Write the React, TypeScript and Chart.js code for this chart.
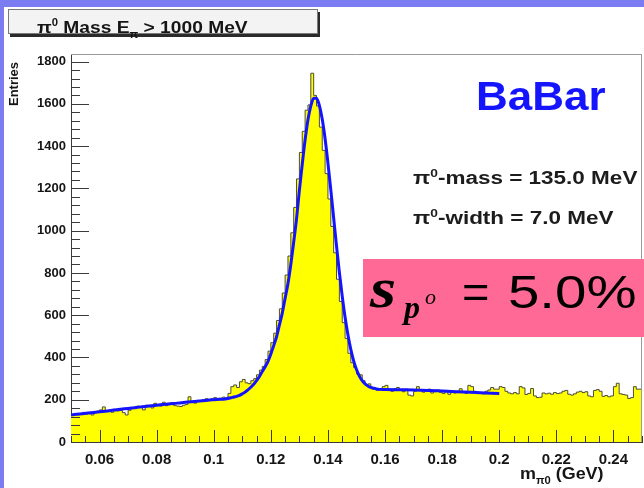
import React, { useEffect, useRef } from 'react';
import { Chart, registerables } from 'chart.js';

Chart.register(...registerables);

// ---------- data ----------
const binStart = 0.05;
const binWidth = 0.001;
const histCounts = [
  132, 126, 135, 129, 131, 140, 133, 137, 128, 144,
  146, 152, 166, 144, 150, 141, 155, 147, 149, 139,
  128, 150, 163, 158, 170, 166, 152, 174, 168, 161,
  183, 176, 170, 188, 172, 181, 186, 172, 170, 168,
  174, 178, 214, 190, 184, 196, 192, 200, 205, 198,
  204, 210, 199, 207, 212, 206, 230, 262, 270, 258,
  285, 296, 280, 276, 290, 300, 318, 340, 358, 390,
  430, 470, 515, 575, 630, 705, 790, 880, 990, 1110,
  1245, 1370, 1470, 1570, 1595, 1745, 1640, 1590, 1490, 1380,
  1270, 1150, 1020, 895, 770, 665, 565, 490, 420, 375,
  352, 322, 318, 290, 270, 275, 255, 250, 245, 252,
  262, 268, 248, 240, 252, 258, 244, 238, 250, 222,
  218, 240, 262, 248, 236, 244, 250, 232, 238, 246,
  235, 230, 244, 226, 238, 232, 240, 252, 236, 230,
  268, 262, 240, 236, 230, 228, 240, 246, 258, 250,
  250, 262, 258, 240, 232, 228, 234, 228, 262, 256,
  225, 230, 253, 218, 210, 212, 232, 228, 231, 226,
  234, 229, 232, 240, 244, 226, 222, 228, 236, 240,
  234, 238, 218, 214, 244, 248, 240, 216, 220, 214,
  218, 262, 278, 228, 225, 222, 206, 210, 262, 250,
];

const fitX = [
  0.050, 0.052, 0.054, 0.056, 0.058, 0.060, 0.062, 0.064, 0.066, 0.068,
  0.070, 0.072, 0.074, 0.076, 0.078, 0.080, 0.082, 0.084, 0.086, 0.088,
  0.090, 0.092, 0.094, 0.096, 0.098, 0.100, 0.102, 0.104, 0.106,
  0.107, 0.108, 0.109, 0.110, 0.111, 0.112, 0.113, 0.114, 0.115, 0.116,
  0.117, 0.118, 0.119, 0.120, 0.121, 0.122, 0.123, 0.124, 0.125, 0.126,
  0.127, 0.128, 0.129, 0.130, 0.131, 0.132, 0.133, 0.134, 0.135, 0.136,
  0.137, 0.138, 0.139, 0.140, 0.141, 0.142, 0.143, 0.144, 0.145, 0.146,
  0.147, 0.148, 0.149, 0.150, 0.151, 0.152, 0.153, 0.154, 0.155, 0.156,
  0.157, 0.158, 0.160, 0.165, 0.170, 0.175, 0.180, 0.185, 0.190, 0.195, 0.200,
];
const fitY = [
  128, 131, 134, 137, 140, 143, 146, 149, 153, 156,
  159, 162, 165, 168, 171, 174, 177, 180, 182, 185,
  188, 190, 193, 195, 198, 200, 202, 204, 209,
  213, 216, 221, 228, 236, 247, 259, 273, 291, 310,
  334, 356, 382, 417, 456, 498, 554, 610, 680, 750,
  841, 946, 1057, 1192, 1315, 1430, 1525, 1590, 1627, 1627,
  1592, 1527, 1435, 1320, 1193, 1060, 928, 803, 690, 590,
  507, 438, 384, 343, 312, 290, 275, 265, 258, 254,
  251, 249, 248, 247, 246, 244, 241, 238, 235, 232, 229,
];

const xTickValues = [0.06, 0.08, 0.1, 0.12, 0.14, 0.16, 0.18, 0.2, 0.22, 0.24];
const xTickLabels = ['0.06', '0.08', '0.1', '0.12', '0.14', '0.16', '0.18', '0.2', '0.22', '0.24'];
const yTickValues = [0, 200, 400, 600, 800, 1000, 1200, 1400, 1600, 1800];
const yTickLabels = ['0', '200', '400', '600', '800', '1000', '1200', '1400', '1600', '1800'];

const X_MIN = 0.05;
const X_MAX = 0.25;
const Y_MIN = 0;
const Y_MAX = 1836;

const SANS = '"Liberation Sans", Arial, Helvetica, sans-serif';
const SERIF = '"Liberation Serif", "Times New Roman", serif';

// ROOT-like inward ticks + frame
const rootFrame = {
  id: 'rootFrame',
  beforeDraw(chart: any) {
    const { ctx, chartArea: a } = chart;
    ctx.save();
    ctx.fillStyle = '#ffffff';
    ctx.fillRect(a.left, a.top, a.right - a.left, a.bottom - a.top);
    ctx.restore();
  },
  afterDraw(chart: any) {
    const { ctx, chartArea: a, scales } = chart;
    const xs = scales.x;
    const ys = scales.y;
    ctx.save();
    ctx.strokeStyle = '#9a9a9a';
    ctx.lineWidth = 1;
    ctx.beginPath();
    ctx.moveTo(a.left, a.top + 0.5);
    ctx.lineTo(a.right, a.top + 0.5);
    ctx.moveTo(a.right - 0.5, a.top);
    ctx.lineTo(a.right - 0.5, a.bottom);
    ctx.stroke();

    ctx.strokeStyle = '#3a3a3a';
    ctx.beginPath();
    for (let k = 0; k * 40 <= Y_MAX; k++) {
      const v = k * 40;
      const py = Math.round(ys.getPixelForValue(v)) + 0.5;
      const len = k % 5 === 0 ? 18 : 9;
      ctx.moveTo(a.left, py);
      ctx.lineTo(a.left + len, py);
    }
    for (let k = 0; k <= 40; k++) {
      const v = X_MIN + k * 0.005;
      const px = Math.round(xs.getPixelForValue(v)) + 0.5;
      const len = k % 4 === 2 ? 12 : 6;
      ctx.moveTo(px, a.bottom);
      ctx.lineTo(px, a.bottom - len);
    }
    ctx.stroke();
    ctx.restore();
  },
};

type TxtProps = {
  x: number;
  y: number; // baseline
  size: number;
  weight?: string | number;
  family?: string;
  color?: string;
  italic?: boolean;
  sx?: number;
  children?: React.ReactNode;
};

const Txt = ({ x, y, size, weight = 'bold', family = SANS, color = '#151515', italic = false, sx = 1, children }: TxtProps) => (
  <div
    style={{
      position: 'absolute',
      left: x,
      top: y - 0.8465 * size,
      fontSize: size,
      lineHeight: `${size}px`,
      fontFamily: family,
      fontWeight: weight as any,
      fontStyle: italic ? 'italic' : 'normal',
      color,
      whiteSpace: 'nowrap',
      transform: `scaleX(${sx})`,
      transformOrigin: 'left top',
    }}
  >
    {children}
  </div>
);

export default function App() {
  const canvasRef = useRef<HTMLCanvasElement | null>(null);

  useEffect(() => {
    const canvas = canvasRef.current;
    if (!canvas) return;

    const histPoints = histCounts.map((c, i) => ({ x: binStart + i * binWidth, y: c }));
    histPoints.push({ x: X_MAX, y: histCounts[histCounts.length - 1] });
    const fitPoints = fitX.map((x, i) => ({ x, y: fitY[i] }));

    const chart = new Chart(canvas, {
      type: 'line',
      data: {
        datasets: [
          {
            label: 'fit',
            data: fitPoints,
            borderColor: '#1414ff',
            borderWidth: 3,
            pointRadius: 0,
            fill: false,
            cubicInterpolationMode: 'monotone',
            order: 0,
          },
          {
            label: 'hist',
            data: histPoints,
            stepped: 'after',
            borderColor: '#4d4d36',
            borderWidth: 1,
            backgroundColor: '#ffff00',
            fill: 'origin',
            pointRadius: 0,
            order: 1,
          },
        ],
      },
      options: {
        responsive: false,
        animation: false,
        devicePixelRatio: 1,
        events: [],
        layout: { padding: { left: 0, top: 54, right: 2, bottom: 0 } },
        plugins: {
          legend: { display: false },
          tooltip: { enabled: false },
          title: { display: false },
        },
        scales: {
          x: {
            type: 'linear',
            min: X_MIN,
            max: X_MAX,
            grid: { display: false, drawTicks: false },
            border: { display: true, color: '#3a3a3a', width: 1 },
            afterBuildTicks: (s: any) => {
              s.ticks = xTickValues.map((v) => ({ value: v }));
            },
            afterFit: (s: any) => {
              s.height = 46;
            },
            ticks: {
              autoSkip: false,
              maxRotation: 0,
              padding: 9,
              color: '#151515',
              font: { family: SANS, size: 15, weight: 'bold' },
              callback: (v: any) => {
                const idx = xTickValues.findIndex((t) => Math.abs(t - Number(v)) < 1e-9);
                return idx >= 0 ? xTickLabels[idx] : '';
              },
            },
          },
          y: {
            type: 'linear',
            min: Y_MIN,
            max: Y_MAX,
            grid: { display: false, drawTicks: false },
            border: { display: true, color: '#3a3a3a', width: 1 },
            afterBuildTicks: (s: any) => {
              s.ticks = yTickValues.map((v) => ({ value: v }));
            },
            afterFit: (s: any) => {
              s.width = 71;
            },
            ticks: {
              autoSkip: false,
              padding: 5,
              color: '#151515',
              font: { family: SANS, size: 13, weight: 'bold' },
              callback: (v: any) => {
                const idx = yTickValues.indexOf(Number(v));
                return idx >= 0 ? yTickLabels[idx] : '';
              },
            },
          },
        },
      },
      plugins: [rootFrame],
    } as any);

    return () => chart.destroy();
  }, []);

  return (
    <div
      style={{
        position: 'fixed',
        left: 0,
        top: 0,
        width: 644,
        height: 488,
        overflow: 'hidden',
        background: '#7b7bf2',
      }}
    >
      <div style={{ position: 'absolute', left: 4, top: 7, right: 0, bottom: 0, background: '#ffffff' }} />
      <canvas
        ref={canvasRef}
        width={644}
        height={488}
        style={{ position: 'absolute', left: 0, top: 0, width: 644, height: 488 }}
      />

      {/* title box */}
      <div
        style={{
          position: 'absolute',
          left: 8,
          top: 9,
          width: 308,
          height: 23,
          background: '#f3f3f3',
          border: '1px solid #7a7a7a',
          boxShadow: '2px 3px 0 #2a2a2a',
        }}
      />
      <Txt x={37} y={28} size={17} sx={1.13}>
        π<sup style={{ fontSize: 10, verticalAlign: 7 }}>0</sup> Mass E
        <sub style={{ fontSize: 10, verticalAlign: -5 }}>π</sub> &gt; 1000 MeV
      </Txt>

      {/* y axis title */}
      <div
        style={{
          position: 'absolute',
          left: 7,
          top: 106,
          fontFamily: SANS,
          fontWeight: 'bold',
          fontSize: 13,
          lineHeight: '13px',
          color: '#151515',
          whiteSpace: 'nowrap',
          transform: 'rotate(-90deg)',
          transformOrigin: 'left top',
        }}
      >
        Entries
      </div>

      {/* x axis title */}
      <Txt x={520} y={480} size={16} sx={1.12}>
        m<sub style={{ fontSize: 10, verticalAlign: -5 }}>π0</sub> (GeV)
      </Txt>

      {/* BaBar */}
      <Txt x={476} y={110} size={40} sx={1.1} color="#1414ff">
        BaBar
      </Txt>

      <Txt x={413} y={179} size={18} sx={1.25} color="#1c1c1c">
        π<sup style={{ fontSize: 11, verticalAlign: 7 }}>0</sup>-mass = 135.0 MeV
      </Txt>
      <Txt x={413} y={219} size={18} sx={1.25} color="#1c1c1c">
        π<sup style={{ fontSize: 11, verticalAlign: 7 }}>0</sup>-width = 7.0 MeV
      </Txt>

      {/* pink box */}
      <div style={{ position: 'absolute', left: 363, top: 259, width: 290, height: 78, background: '#fe6a95' }} />
      <Txt x={370} y={307} size={56} family={SERIF} italic sx={1.2} color="#000">
        s
      </Txt>
      <Txt x={404} y={318} size={32} family={SERIF} italic color="#000">
        p
      </Txt>
      <Txt x={425} y={305} size={22} family={SERIF} italic weight="normal" color="#000">
        o
      </Txt>
      <Txt x={462} y={308} size={47} weight="normal" color="#000">
        =
      </Txt>
      <Txt x={508} y={308} size={47} weight="normal" sx={1.2} color="#000">
        5.0%
      </Txt>
    </div>
  );
}
